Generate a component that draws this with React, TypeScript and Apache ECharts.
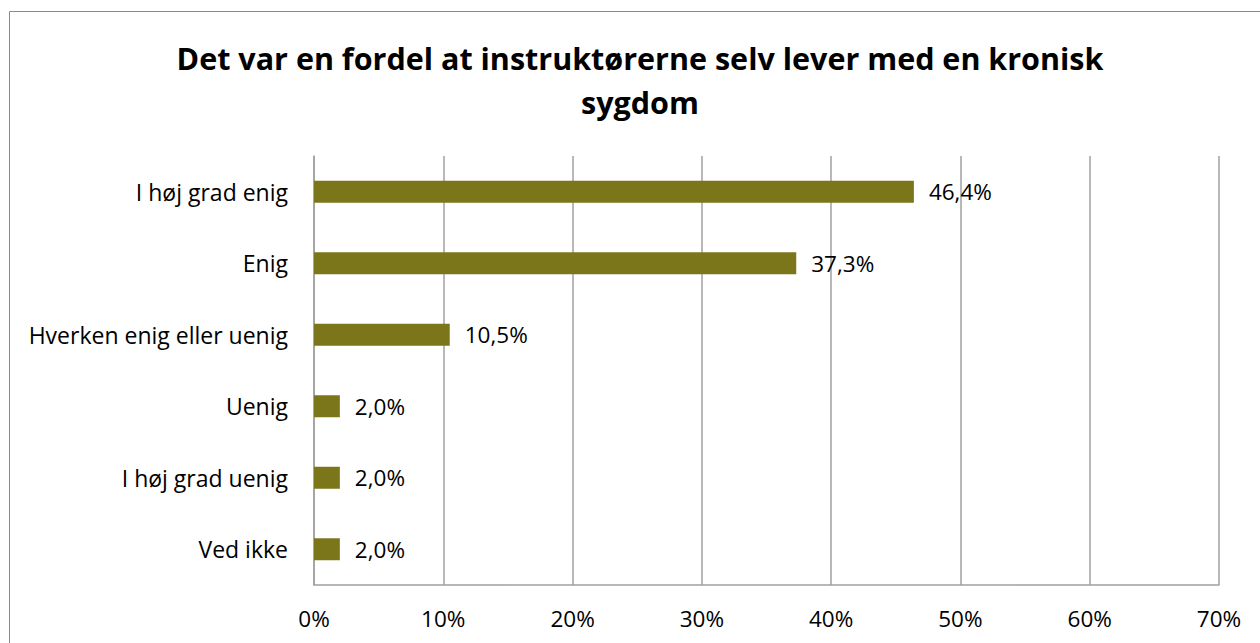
import React, { useEffect, useRef } from "react";
import * as echarts from "echarts";

const categories = [
  "I høj grad enig",
  "Enig",
  "Hverken enig eller uenig",
  "Uenig",
  "I høj grad uenig",
  "Ved ikke",
];
const values = [46.4, 37.3, 10.5, 2.0, 2.0, 2.0];
const titleLines = [
  "Det var en fordel at instruktørerne selv lever med en kronisk",
  "sygdom",
];

const FONT = "'Open Sans', sans-serif";

export default function App() {
  const ref = useRef<HTMLDivElement>(null);
  useEffect(() => {
    if (!ref.current) return;
    const chart = echarts.init(ref.current, undefined, { renderer: "svg" });
    chart.setOption({
      animation: false,
      backgroundColor: "#fff",
      graphic: [
        {
          type: "rect",
          shape: { x: 9.5, y: 11.5, width: 1260, height: 643 },
          style: { fill: "none", stroke: "#8a8a8a", lineWidth: 1 },
          silent: true,
        },
        {
          type: "text",
          x: 640,
          y: 58,
          style: {
            text: titleLines[0],
            fontFamily: FONT,
            fontWeight: "bold",
            fontSize: 30.5,
            fill: "#000",
            align: "center",
            verticalAlign: "middle",
          },
        },
        {
          type: "text",
          x: 640,
          y: 102,
          style: {
            text: titleLines[1],
            fontFamily: FONT,
            fontWeight: "bold",
            fontSize: 30.5,
            fill: "#000",
            align: "center",
            verticalAlign: "middle",
          },
        },
      ],
      grid: { left: 314, right: 41, top: 156, bottom: 58 },
      xAxis: {
        type: "value",
        min: 0,
        max: 70,
        interval: 10,
        axisLine: { show: true, lineStyle: { color: "#a0a0a0", width: 1.5 } },
        axisTick: { show: false },
        splitLine: { show: true, lineStyle: { color: "#a0a0a0", width: 1.5 } },
        axisLabel: {
          formatter: (v: number) => v + "%",
          fontFamily: FONT,
          fontSize: 22.5,
          color: "#000",
          margin: 22,
        },
      },
      yAxis: {
        type: "category",
        data: categories,
        inverse: true,
        axisLine: { show: true, lineStyle: { color: "#a0a0a0", width: 1.5 } },
        axisTick: { show: false },
        axisLabel: {
          fontFamily: FONT,
          fontSize: 23,
          color: "#000",
          margin: 26,
        },
      },
      series: [
        {
          type: "bar",
          data: values,
          barWidth: 22,
          itemStyle: { color: "#7c761a" },
          label: {
            show: true,
            position: "right",
            distance: 15,
            formatter: (p: any) => p.value.toFixed(1).replace(".", ",") + "%",
            fontFamily: FONT,
            fontSize: 22.5,
            color: "#000",
          },
        },
      ],
    });
    return () => chart.dispose();
  }, []);
  return (
    <div
      ref={ref}
      style={{ position: "fixed", left: 0, top: 0, width: 1260, height: 643 }}
    />
  );
}
